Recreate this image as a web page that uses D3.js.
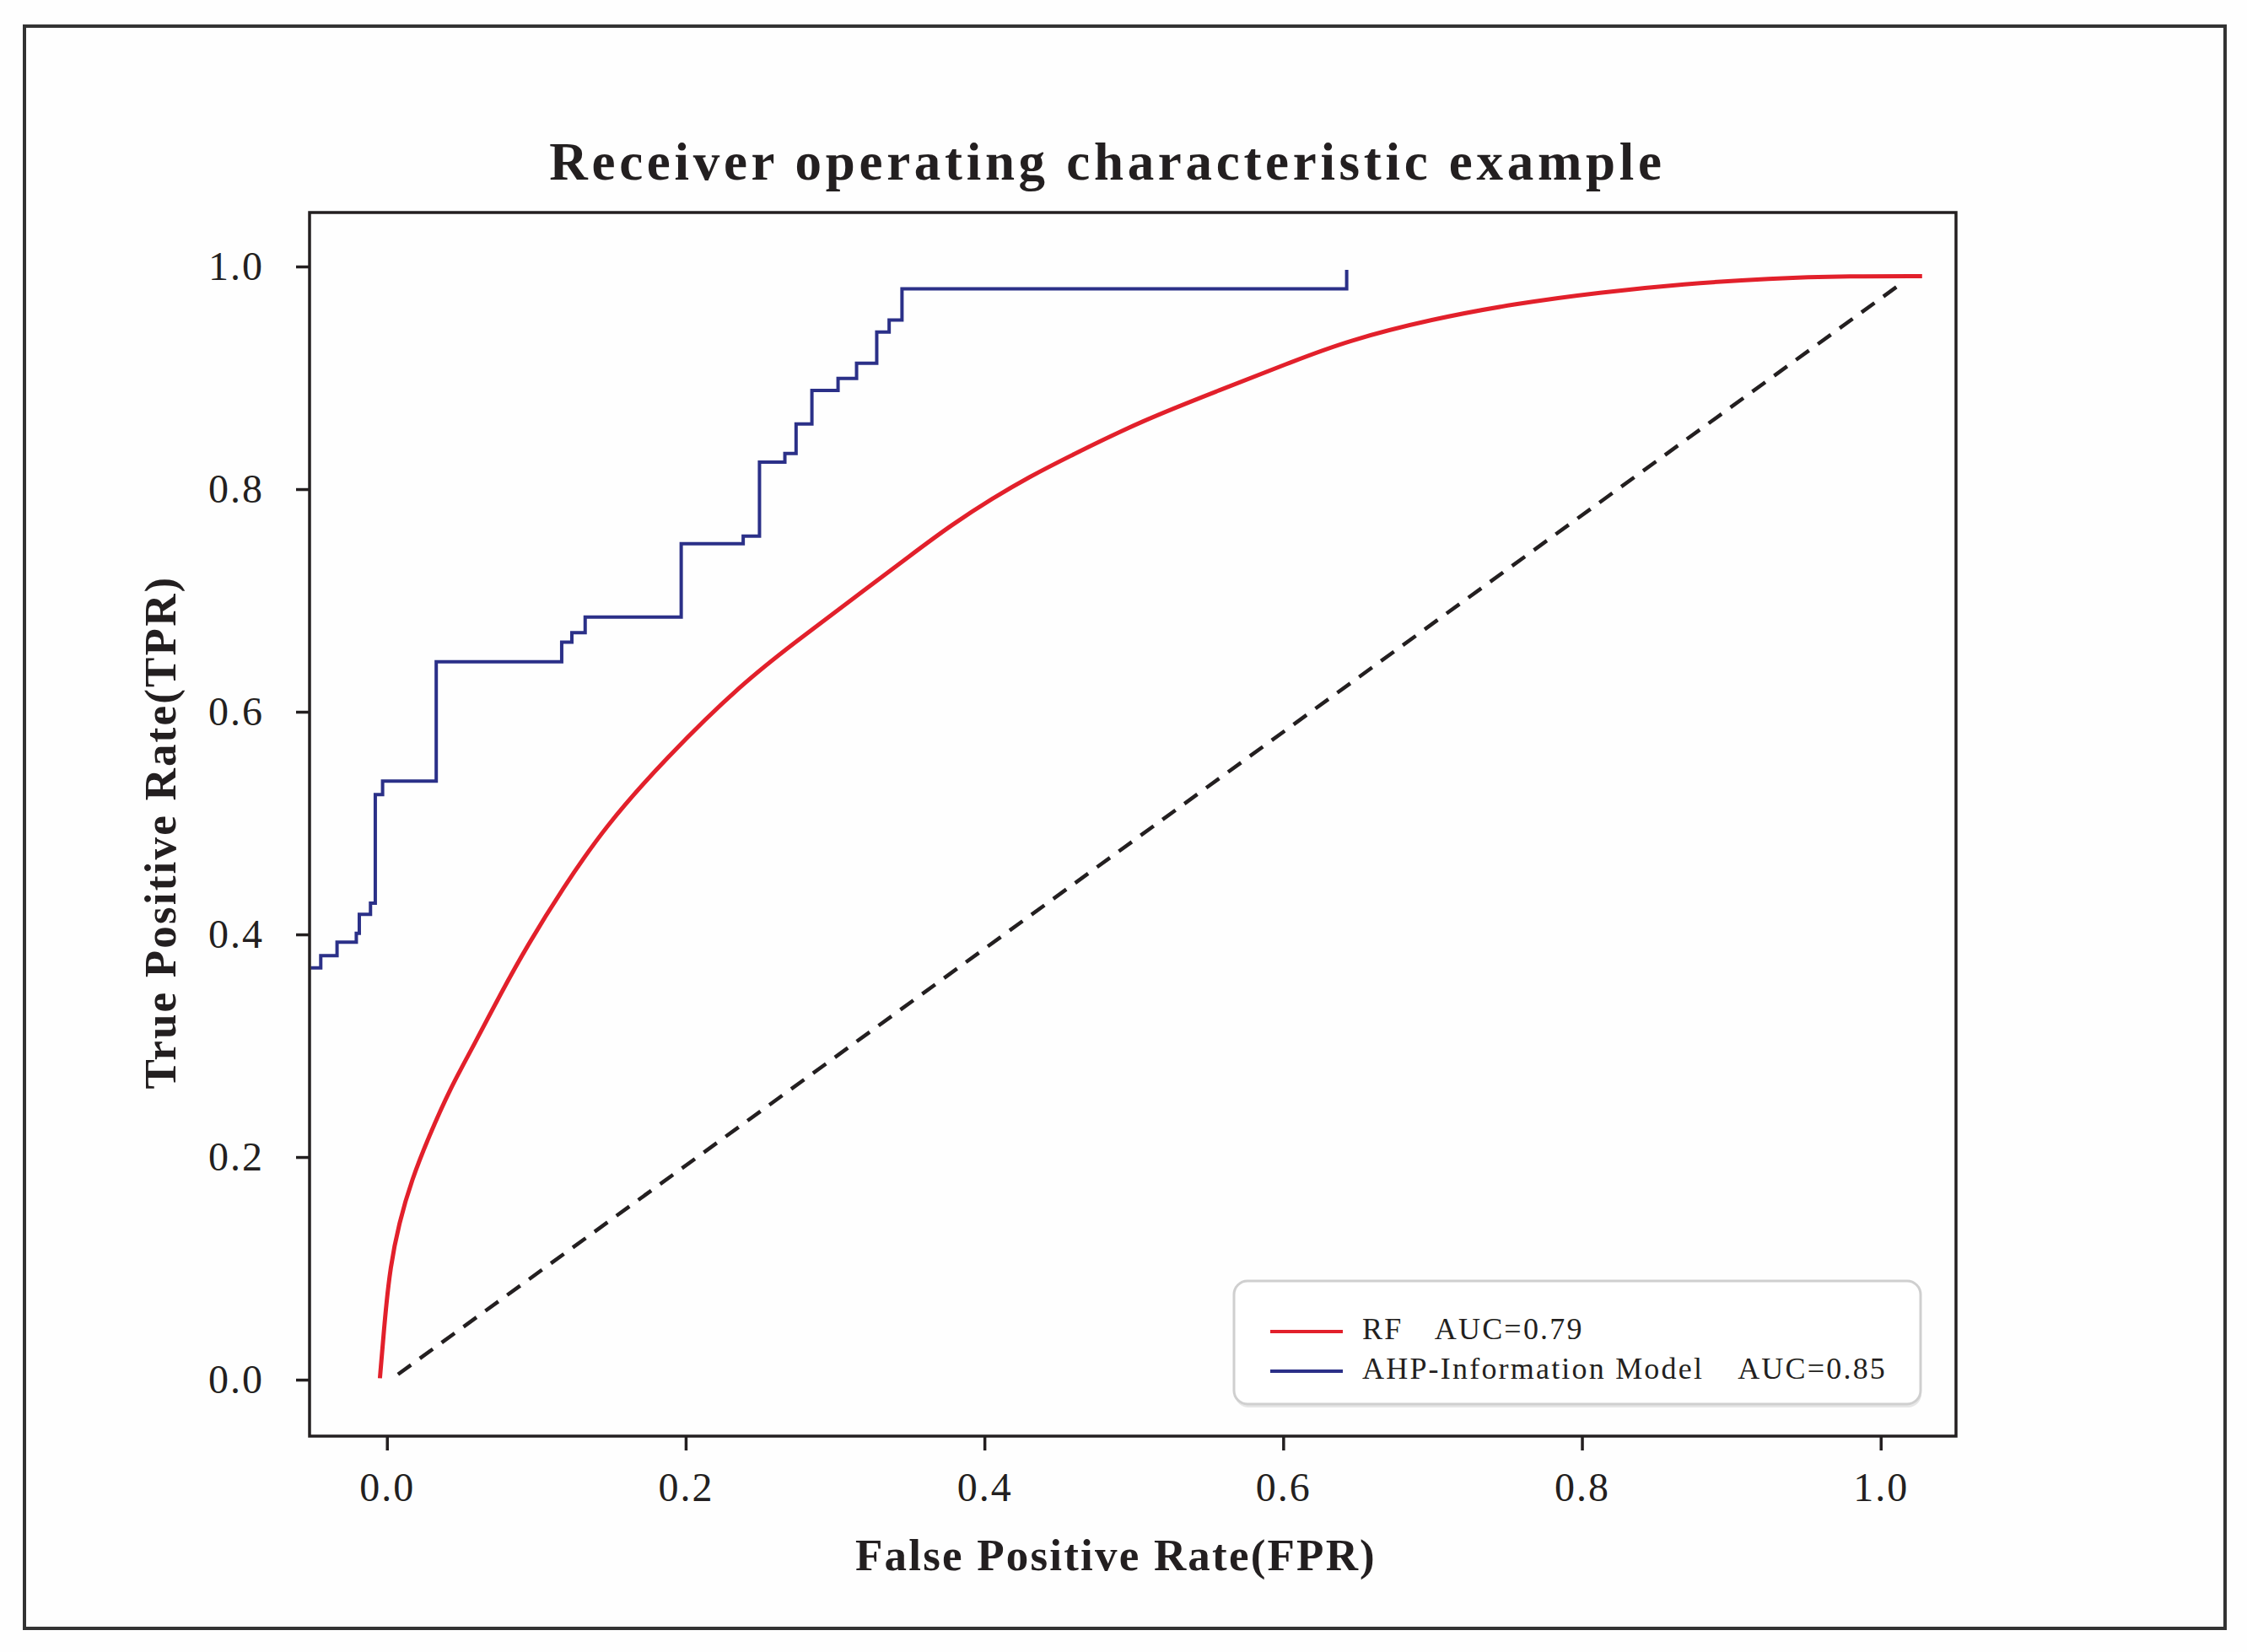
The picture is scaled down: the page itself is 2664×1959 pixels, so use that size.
<!DOCTYPE html>
<html>
<head>
<meta charset="utf-8">
<script src="https://cdn.jsdelivr.net/npm/d3@7"></script>
<style>
    body { margin: 0; background: #fff; }
    text { font-family: "Liberation Serif", "Times New Roman", serif; fill: #231f20; }
</style>
</head>
<body>
<svg id="chart"></svg>
<script>
// values
const rfFpr = [-0.0047, -0.0012, 0.0022, 0.008, 0.0166, 0.0281, 0.0425, 0.0568, 0.077, 0.0942,
    0.1172, 0.146, 0.1862, 0.238, 0.278, 0.3213, 0.35, 0.378, 0.4057, 0.43, 0.456, 0.5063, 0.5566,
    0.6069, 0.643, 0.6995, 0.7558, 0.812, 0.8685, 0.9248, 0.981, 1.0277];
const rfTpr = [0.0013, 0.0578, 0.101, 0.1404, 0.1796, 0.2186, 0.262, 0.2969, 0.349, 0.3904,
    0.4403, 0.4969, 0.5577, 0.626, 0.6673, 0.711, 0.740, 0.768, 0.792, 0.811, 0.829, 0.862, 0.8884,
    0.915, 0.9333, 0.9528, 0.9667, 0.9768, 0.9843, 0.9894, 0.9914, 0.9914];

const ahpFpr = [-0.051, -0.0443, -0.0334, -0.0205, -0.0185, -0.011, -0.0078, -0.0029, 0.033,
    0.117, 0.1238, 0.1327, 0.197, 0.2385, 0.2494, 0.2664, 0.2739, 0.2845, 0.302, 0.3144,
    0.3279, 0.3362, 0.3448, 0.6425, 0.6425];
const ahpTpr = [0.370, 0.381, 0.393, 0.401, 0.418, 0.428, 0.5256, 0.5377, 0.645,
    0.6626, 0.671, 0.685, 0.751, 0.7577, 0.8243, 0.832, 0.8586, 0.8886, 0.8995, 0.913,
    0.9412, 0.952, 0.980, 0.980, 0.997];

const chanceFpr = [0.0074, 1.0155];
const chanceTpr = [0.0048, 0.9864];

const xTicks = [0, 0.2, 0.4, 0.6, 0.8, 1.0];
const yTicks = [0, 0.2, 0.4, 0.6, 0.8, 1.0];

const legendNames = ["RF", "AHP-Information Model"];
const legendAuc = ["AUC=0.79", "AUC=0.85"];
const seriesColors = ["#e2202b", "#2b3088"];

class RocChart {
    constructor() {
        this.width = 2664;
        this.height = 1959;
        this.plot = {left: 367, right: 2319, top: 252, bottom: 1703};
        this.x = d3.scaleLinear().domain([-0.0518, 1.0504]).range([this.plot.left, this.plot.right]);
        this.y = d3.scaleLinear().domain([-0.0507, 1.0485]).range([this.plot.bottom, this.plot.top]);
    }

    drawChart() {
        let svg = d3.select("#chart")
            .attr("width", this.width)
            .attr("height", this.height);

        svg.append("rect")
            .attr("width", this.width).attr("height", this.height)
            .attr("fill", "#fefefe");

        // outer frame around the figure
        svg.append("rect")
            .attr("x", 29).attr("y", 31)
            .attr("width", 2609).attr("height", 1900)
            .attr("fill", "none")
            .attr("stroke", "#333")
            .attr("stroke-width", 4);

        svg.append("clipPath").attr("id", "plotClip")
            .append("rect")
            .attr("x", this.plot.left).attr("y", this.plot.top)
            .attr("width", this.plot.right - this.plot.left)
            .attr("height", this.plot.bottom - this.plot.top);

        let line = d3.line()
            .x(d => this.x(d[0]))
            .y(d => this.y(d[1]));

        let lines = svg.append("g").attr("clip-path", "url(#plotClip)");

        lines.append("path")
            .datum(d3.zip(chanceFpr, chanceTpr))
            .attr("d", line)
            .attr("fill", "none")
            .attr("stroke", "#231f20")
            .attr("stroke-width", 4.5)
            .attr("stroke-dasharray", "19,13");

        lines.append("path")
            .datum(d3.zip(rfFpr, rfTpr))
            .attr("d", line.curve(d3.curveBasis))
            .attr("fill", "none")
            .attr("stroke", seriesColors[0])
            .attr("stroke-width", 5);

        lines.append("path")
            .datum(d3.zip(ahpFpr, ahpTpr))
            .attr("d", line.curve(d3.curveStepAfter))
            .attr("fill", "none")
            .attr("stroke", seriesColors[1])
            .attr("stroke-width", 4);

        // axes
        let xAxis = svg.append("g")
            .attr("transform", `translate(0,${this.plot.bottom})`)
            .call(d3.axisBottom(this.x).tickValues(xTicks).tickFormat(d3.format(".1f"))
                .tickSize(17).tickPadding(26));

        let yAxis = svg.append("g")
            .attr("transform", `translate(${this.plot.left},0)`)
            .call(d3.axisLeft(this.y).tickValues(yTicks).tickFormat(d3.format(".1f"))
                .tickSize(16).tickPadding(38));

        [xAxis, yAxis].forEach(ax => {
            ax.select(".domain").remove();
            ax.selectAll(".tick line").attr("stroke", "#231f20").attr("stroke-width", 3.5);
            ax.selectAll(".tick text")
                .attr("fill", "#231f20")
                .style("font-size", "48px")
                .style("letter-spacing", "2px");
        });

        svg.append("rect")
            .attr("x", this.plot.left).attr("y", this.plot.top)
            .attr("width", this.plot.right - this.plot.left)
            .attr("height", this.plot.bottom - this.plot.top)
            .attr("fill", "none")
            .attr("stroke", "#231f20")
            .attr("stroke-width", 3.5);

        // title and axis labels
        svg.append("text")
            .attr("x", 1313).attr("y", 213)
            .attr("text-anchor", "middle")
            .style("font-size", "63px").style("font-weight", "bold")
            .style("letter-spacing", "4.7px")
            .text("Receiver operating characteristic example");

        svg.append("text")
            .attr("x", 1323).attr("y", 1862)
            .attr("text-anchor", "middle")
            .style("font-size", "53px").style("font-weight", "bold")
            .style("letter-spacing", "2.2px")
            .text("False Positive Rate(FPR)");

        svg.append("text")
            .attr("transform", "translate(208,987) rotate(-90)")
            .attr("text-anchor", "middle")
            .style("font-size", "53px").style("font-weight", "bold")
            .style("letter-spacing", "2.2px")
            .text("True Positive Rate(TPR)");

        this.drawLegend(svg);
    }

    drawLegend(svg) {
        let legend = svg.append("g").attr("transform", "translate(1463,1519)");

        legend.append("rect")
            .attr("x", 1).attr("y", 4)
            .attr("width", 814).attr("height", 146)
            .attr("rx", 16)
            .attr("fill", "#e6e6e6");
        legend.append("rect")
            .attr("width", 814).attr("height", 146)
            .attr("rx", 16)
            .attr("fill", "#fff")
            .attr("stroke", "#cfcfcf")
            .attr("stroke-width", 3);

        let rows = legend.selectAll("g.row")
            .data(legendNames)
            .enter().append("g")
            .attr("class", "row")
            .attr("transform", (d, i) => `translate(0,${60 + i * 47})`);

        rows.append("line")
            .attr("x1", 43).attr("x2", 129)
            .attr("stroke", (d, i) => seriesColors[i])
            .attr("stroke-width", 4);

        let label = rows.append("text")
            .attr("x", 152).attr("y", 9)
            .style("font-size", "36px")
            .style("letter-spacing", "2.2px");
        label.append("tspan").text(d => d);
        label.append("tspan").attr("dx", 40).text((d, i) => legendAuc[i]);
    }
}

let chart = new RocChart();
chart.drawChart();
</script>
</body>
</html>
